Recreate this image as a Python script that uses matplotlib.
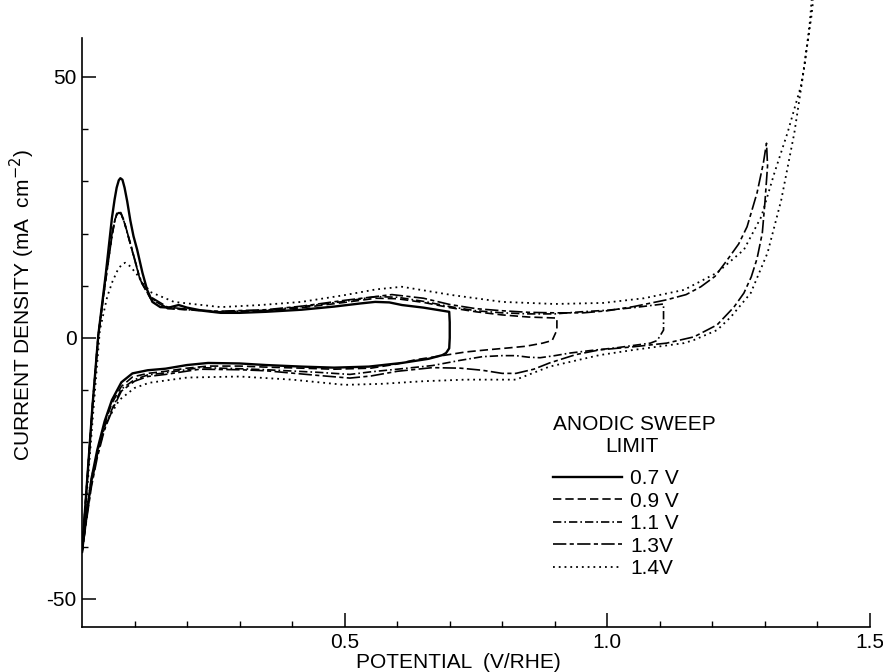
import matplotlib
matplotlib.use("Agg")
import matplotlib.pyplot as plt
from matplotlib.ticker import FixedLocator

plt.rcParams['font.family'] = ['Liberation Sans', 'DejaVu Sans']
plt.rcParams['axes.unicode_minus'] = False

# ---------------- data ----------------
# 0.7 V anodic limit (solid)
x07 = [0.0, 0.010, 0.020, 0.031, 0.045, 0.057, 0.062, 0.066, 0.070, 0.073, 0.077, 0.081, 0.086,
       0.092, 0.098, 0.105, 0.115, 0.124,
       0.134, 0.149, 0.165, 0.184, 0.200, 0.230, 0.264, 0.300, 0.350, 0.418, 0.480, 0.530, 0.558,
       0.585, 0.609, 0.650, 0.699,
       0.700, 0.700, 0.699, 0.693, 0.686, 0.660, 0.609, 0.546, 0.480, 0.418, 0.350, 0.300, 0.240,
       0.200, 0.159, 0.125, 0.096, 0.075, 0.057, 0.043, 0.029, 0.018, 0.010, 0.0]
y07 = [-41, -27, -13, 0.5, 12, 23, 26.5, 28.8, 30.2, 30.6, 30.3, 28.8, 26.2,
       22.5, 19.5, 16.9, 12.5, 9.2,
       6.9, 5.9, 5.8, 6.3, 5.8, 5.2, 4.8, 4.8, 5.0, 5.4, 6.0, 6.6, 6.9,
       6.8, 6.3, 5.8, 5.0,
       3.0, 0.0, -2.0, -2.9, -3.3, -4.0, -4.8, -5.5, -5.7, -5.5, -5.2, -4.9, -4.8,
       -5.2, -5.9, -6.2, -6.8, -8.5, -11.9, -16.0, -21.5, -27.0, -33.0, -41]

# 0.9 V anodic limit (dashed)
x09 = [0.0, 0.010, 0.020, 0.031, 0.045, 0.057, 0.062, 0.066, 0.070, 0.074, 0.080, 0.092, 0.111,
       0.130, 0.163,
       0.200, 0.260, 0.350, 0.420, 0.500, 0.560, 0.600, 0.650, 0.700, 0.750, 0.800, 0.850, 0.904,
       0.904, 0.895, 0.877, 0.845, 0.814, 0.770, 0.730, 0.673, 0.634, 0.600, 0.550, 0.480, 0.418,
       0.350, 0.300, 0.240, 0.200, 0.159, 0.125, 0.096, 0.075, 0.057, 0.043, 0.029, 0.018, 0.010, 0.0]
y09 = [-41, -27, -13, 0.5, 11, 19.5, 22.3, 23.8, 24.3, 24.0, 22.5, 18, 11,
       7.6, 5.6,
       5.4, 5.0, 5.2, 5.8, 6.8, 7.6, 7.5, 6.8, 5.8, 5.0, 4.4, 4.0, 3.8,
       1.5, -0.5, -1.0, -1.6, -1.9, -2.3, -2.7, -3.6, -4.2, -5.0, -5.8, -6.0, -5.8,
       -5.6, -5.4, -5.4, -5.8, -6.4, -6.8, -7.5, -9.3, -12.5, -16.5, -22.0, -27.5, -33.0, -41]

# 1.1 V anodic limit (dash-dot)
x11 = [0.0, 0.010, 0.020, 0.031, 0.045, 0.057, 0.062, 0.066, 0.070, 0.074, 0.080, 0.092, 0.111,
       0.130, 0.163,
       0.200, 0.260, 0.350, 0.420, 0.500, 0.560, 0.600, 0.650, 0.700, 0.750, 0.800, 0.850, 0.900,
       0.950, 1.000, 1.050, 1.107,
       1.107, 1.095, 1.082, 1.017, 0.970, 0.929, 0.900, 0.872, 0.850, 0.826, 0.800, 0.762, 0.720,
       0.667, 0.600, 0.550, 0.510, 0.450, 0.350, 0.300, 0.224, 0.159, 0.125, 0.100, 0.075, 0.060,
       0.043, 0.029, 0.018, 0.010, 0.0]
y11 = [-41, -27, -13, 0.5, 11, 19.5, 22.2, 23.6, 24.0, 23.8, 22.3, 18, 11,
       7.7, 5.7,
       5.4, 5.0, 5.3, 6.0, 7.0, 7.9, 7.8, 7.0, 6.0, 5.2, 4.8, 4.6, 4.6,
       5.0, 5.3, 5.8, 6.5,
       1.5, -0.5, -1.0, -1.9, -2.4, -2.9, -3.4, -3.8, -3.7, -3.4, -3.4, -3.6, -4.3,
       -5.3, -6.0, -6.5, -7.0, -6.6, -6.1, -5.9, -5.7, -6.7, -7.1, -8.0, -9.8, -13.0,
       -17.0, -22.5, -28.0, -33.5, -41]

# 1.3 V anodic limit (long dash - short dash)
x13 = [0.0, 0.010, 0.020, 0.031, 0.048, 0.058, 0.063, 0.067, 0.071, 0.075, 0.081, 0.092, 0.111,
       0.130, 0.163,
       0.200, 0.260, 0.350, 0.420, 0.500, 0.590, 0.650, 0.700, 0.750, 0.800, 0.850, 0.900, 0.954,
       1.000, 1.050, 1.113, 1.150, 1.178, 1.205, 1.228, 1.250, 1.266, 1.285, 1.297, 1.303,
       1.305, 1.300, 1.295, 1.285, 1.274, 1.260, 1.241, 1.209, 1.165, 1.113, 1.050, 0.985, 0.940,
       0.890, 0.860, 0.826, 0.800, 0.762, 0.720, 0.667, 0.600, 0.550, 0.510, 0.450, 0.350, 0.300,
       0.224, 0.159, 0.125, 0.100, 0.075, 0.060, 0.043, 0.029, 0.018, 0.010, 0.0]
y13 = [-41, -27, -13, 0.5, 14, 20.5, 22.8, 23.8, 24.0, 23.6, 22.0, 18.2, 11.1,
       7.9, 5.9,
       5.5, 5.1, 5.4, 6.1, 7.2, 8.3, 7.6, 6.4, 5.6, 5.2, 4.9, 4.8, 4.8,
       5.2, 6.0, 7.3, 8.3, 9.8, 11.8, 14.9, 18.0, 21.3, 27.8, 33.5, 37.3,
       33.0, 26.0, 20.1, 15.2, 11.7, 8.6, 5.9, 2.5, 0.2, -1.0, -1.7, -2.3, -3.2,
       -4.8, -6.0, -6.8, -6.8, -6.2, -5.8, -5.7, -6.4, -7.3, -7.7, -7.2, -6.3, -6.1,
       -6.0, -7.0, -7.4, -8.3, -10.2, -13.3, -17.5, -23.0, -28.5, -34.0, -41]

# 1.4 V anodic limit (dotted)
x14 = [0.0, 0.010, 0.020, 0.034, 0.048, 0.058, 0.067, 0.075, 0.082, 0.092, 0.105, 0.130, 0.175,
       0.264, 0.340, 0.418,
       0.500, 0.560, 0.609, 0.705, 0.800, 0.900, 0.992, 1.070, 1.146, 1.209, 1.260, 1.293, 1.318,
       1.343, 1.370, 1.389, 1.395,
       1.390, 1.385, 1.375, 1.356, 1.331, 1.305, 1.273, 1.235, 1.209, 1.165, 1.146, 1.050, 0.985,
       0.890, 0.826, 0.730, 0.650, 0.571, 0.500, 0.400, 0.300, 0.200, 0.128, 0.100, 0.071, 0.050,
       0.035, 0.020, 0.010, 0.0]
y14 = [-41, -29, -16, 1.5, 7.9, 10.8, 12.8, 14.0, 14.4, 13.7, 12.1, 8.8, 6.9,
       5.9, 6.3, 6.9,
       8.2, 9.3, 9.8, 8.2, 6.9, 6.5, 6.7, 7.6, 9.2, 12.5, 16.9, 23.2, 31.6,
       39.3, 48.8, 62.0, 68.0,
       66.0, 60.0, 52.0, 39.3, 26.4, 16.3, 8.6, 4.0, 1.5, -0.4, -1.0, -2.3, -3.3,
       -5.5, -8.0, -8.0, -8.3, -8.8, -9.0, -8.0, -7.4, -7.6, -8.6, -9.6, -11.9, -15.5,
       -20.0, -26.0, -32.0, -41]

labels = ['0.7 V', '0.9 V', '1.1 V', '1.3V', '1.4V']
x_ticks = [0.5, 1.0, 1.5]
x_ticklabels = ['0.5', '1.0', '1.5']
y_ticks = [-50, 0, 50]
y_ticklabels = ['-50', '0', '50']

# ---------------- figure ----------------
W, H = 883, 672
fig = plt.figure(figsize=(W / 100, H / 100), dpi=100)
ax = fig.add_axes([82 / W, 45 / H, 788 / W, 627 / H])
ax.set_xlim(0.0, 1.5)
ax.set_ylim(-55.4, 64.75)

styles = [
    dict(ls='-', lw=1.7),
    dict(ls=(0, (5, 2.4)), lw=1.2),
    dict(ls=(0, (5, 1.8, 1, 1.8)), lw=1.2),
    dict(ls=(0, (8, 2, 2.5, 2)), lw=1.2),
    dict(ls=(0, (1, 2.2)), lw=1.3),
]
series = [(x07, y07), (x09, y09), (x11, y11), (x13, y13), (x14, y14)]
handles = []
for (xs, ys), st, lab in zip(series, styles, labels):
    h, = ax.plot(xs, ys, color='black', label=lab,
                 solid_joinstyle='round', dash_capstyle='butt', **st)
    handles.append(h)

for s in ['top', 'right']:
    ax.spines[s].set_visible(False)
ax.spines['left'].set_bounds(-55.4, 57.5)
ax.spines['left'].set_linewidth(1.2)
ax.spines['bottom'].set_linewidth(1.2)

ax.xaxis.set_major_locator(FixedLocator(x_ticks))
ax.set_xticklabels(x_ticklabels)
ax.xaxis.set_minor_locator(FixedLocator([0.1, 0.2, 0.3, 0.4, 0.6, 0.7, 0.8, 0.9,
                                         1.1, 1.2, 1.3, 1.4]))
ax.yaxis.set_major_locator(FixedLocator(y_ticks))
ax.set_yticklabels(y_ticklabels)
ax.yaxis.set_minor_locator(FixedLocator([-40, -30, -20, -10, 10, 20, 30, 40]))
ax.tick_params(which='major', direction='in', length=10, width=1.1, labelsize=15, pad=4)
ax.tick_params(which='minor', direction='in', length=4, width=1.0)

fig.text(458 / W, 1 - 662 / H, 'POTENTIAL  (V/RHE)', ha='center', va='center', fontsize=15)
fig.text(22 / W, 1 - 305 / H, 'CURRENT DENSITY (mA  cm$^{-2}$)', rotation=90,
         ha='center', va='center', fontsize=15)

leg = ax.legend(handles=handles, loc='upper left',
                bbox_to_anchor=((553 - 82) / 788, (627 - 469) / 627),
                frameon=False, fontsize=15, handlelength=3.3, handletextpad=0.4,
                labelspacing=0.17, borderpad=0, borderaxespad=0)
ax.text((634 - 82) / 788, (627 - 425) / 627, 'ANODIC SWEEP', transform=ax.transAxes,
        ha='center', va='center', fontsize=15)
ax.text((632 - 82) / 788, (627 - 446) / 627, 'LIMIT', transform=ax.transAxes,
        ha='center', va='center', fontsize=15)

fig.savefig('out.png', dpi=100)
